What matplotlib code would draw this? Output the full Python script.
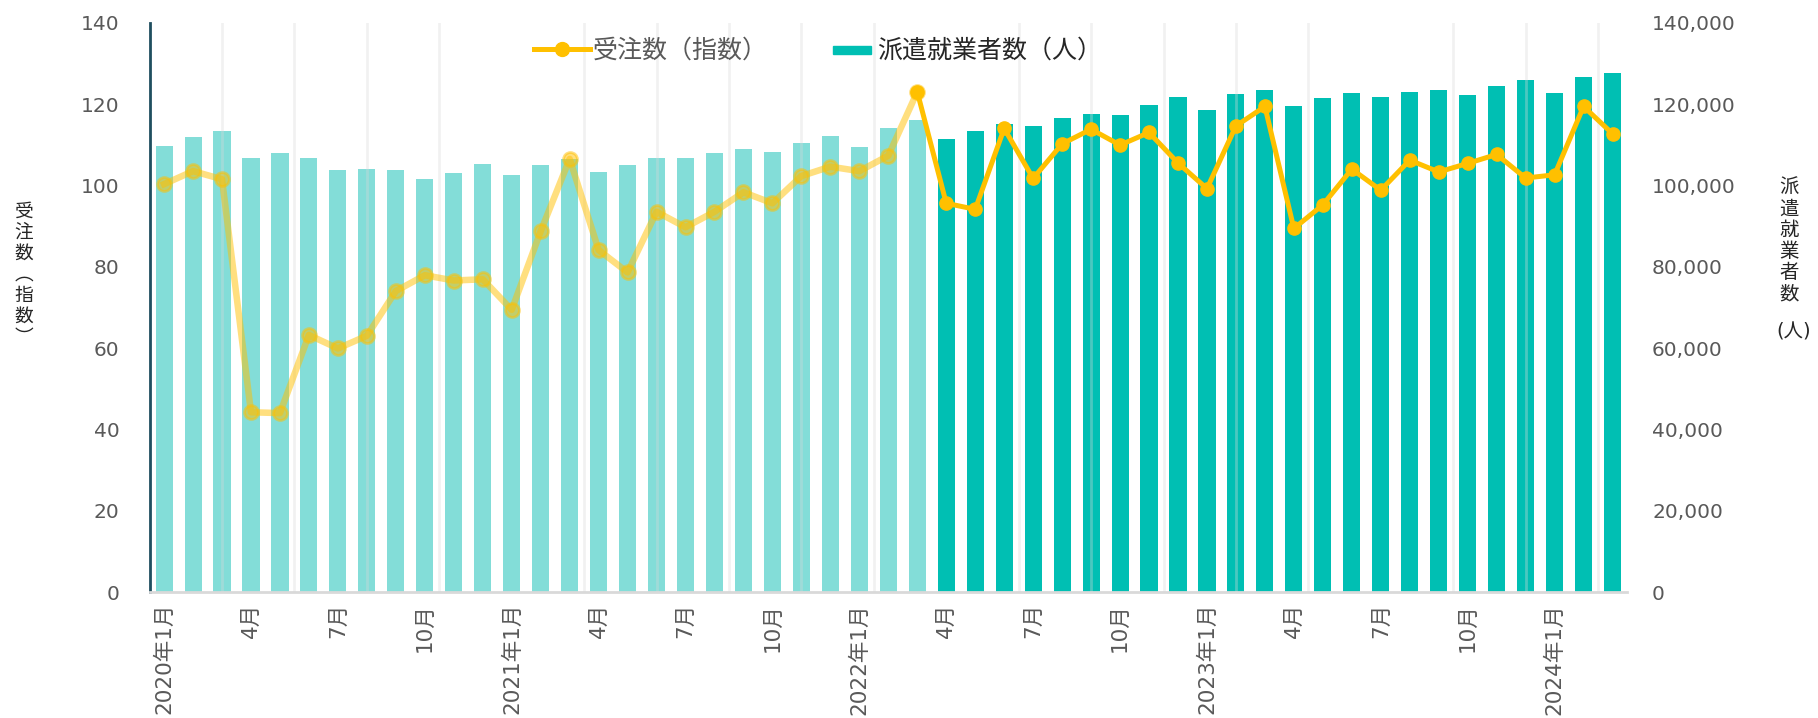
import numpy as np
import matplotlib
matplotlib.use('Agg')
import matplotlib.pyplot as plt
from matplotlib.lines import Line2D
from matplotlib.patches import Rectangle
from matplotlib.legend_handler import HandlerPatch
from matplotlib.ticker import FuncFormatter

plt.rcParams['font.family'] = ['DejaVu Sans', 'Noto Sans CJK JP']

# 2020年1月〜2024年3月（月次）
# 派遣就業者数（人）
workers = [109700, 111900, 113400, 106700, 108000, 106700, 103800, 104000, 103800, 101600,
           103000, 105300, 102600, 105000, 106500, 103300, 105000, 106700, 106700, 108000,
           109000, 108200, 110400, 112100, 109400, 114100, 116100, 111400, 113300, 115100,
           114500, 116500, 117600, 117300, 119800, 121700, 118600, 122500, 123500, 119500,
           121500, 122600, 121700, 123000, 123400, 122200, 124400, 125900, 122600, 126700,
           127600]

# 受注数（指数）
orders = [100.3, 103.5, 101.5, 44.2, 44.0, 63.2, 59.9, 63.0, 74.0, 77.9,
          76.6, 76.9, 69.4, 88.7, 106.5, 84.1, 78.6, 93.5, 89.7, 93.5,
          98.3, 95.6, 102.3, 104.6, 103.5, 107.3, 123.0, 95.6, 94.1, 114.0,
          101.7, 110.2, 113.8, 109.9, 113.0, 105.5, 99.2, 114.6, 119.4, 89.4,
          95.2, 104.0, 98.8, 106.2, 103.3, 105.4, 107.6, 101.8, 102.6, 119.4,
          112.7]

tick_labels = ['2020年1月', '4月', '7月', '10月',
               '2021年1月', '4月', '7月', '10月',
               '2022年1月', '4月', '7月', '10月',
               '2023年1月', '4月', '7月', '10月',
               '2024年1月']

# 2022年3月までは薄い色で表示
n_past = 27

TEAL = '#00BFB3'
TEAL_LIGHT = '#83DDD8'
GOLD = '#FFC000'
TICK_COLOR = '#595959'

W, H = 1818, 718
fig = plt.figure(figsize=(W / 100, H / 100), dpi=100)
ax = fig.add_axes([149.6 / W, 1 - 592 / H, (1627 - 149.6) / W, (592 - 22.7) / H])
ax2 = ax.twinx()

x = np.arange(len(workers))
bar_colors = [TEAL_LIGHT if i < n_past else TEAL for i in x]
ax2.bar(x, workers, width=0.59, color=bar_colors, zorder=2)

# 折れ線は棒の上に描く
ax.set_zorder(ax2.get_zorder() + 1)
ax.patch.set_visible(False)

ax.plot(x[:n_past], orders[:n_past], color=GOLD, alpha=0.5, lw=4.7,
        marker='o', ms=10, mew=2, zorder=3)
ax.plot(x[n_past - 1:], orders[n_past - 1:], color=GOLD, lw=3.6,
        marker='o', ms=9.5, zorder=4)

ax.set_xlim(-0.5, len(workers) - 0.5)
ax.set_ylim(0, 140)
ax2.set_ylim(0, 140000)
ax.set_yticks(np.arange(0, 141, 20))
ax2.set_yticks(np.arange(0, 140001, 20000))
ax2.yaxis.set_major_formatter(FuncFormatter(lambda v, p: f'{int(v):,}'))

ax.set_xticks(x[::3])
ax.set_xticklabels(tick_labels, rotation=90, va='top', ha='center')
ax.set_xticks(np.arange(2, len(workers), 2.5), minor=True)
ax.grid(which='minor', axis='x', color='#D9D9D9', alpha=0.35, lw=2, zorder=1)

ax.tick_params(axis='y', length=0, pad=21.5, labelsize=14.5, labelcolor=TICK_COLOR)
ax.tick_params(axis='x', which='both', length=0, pad=8, labelsize=15.5, labelcolor=TICK_COLOR)
ax2.tick_params(axis='y', length=0, pad=18, labelsize=14.5, labelcolor=TICK_COLOR)

for s in ['top', 'right']:
    ax.spines[s].set_visible(False)
for s in ax2.spines.values():
    s.set_visible(False)
ax.spines['left'].set_color('#1F4E5F')
ax.spines['left'].set_linewidth(2)
ax.spines['bottom'].set_color('#D9D9D9')
ax.spines['bottom'].set_linewidth(2)

# 縦書きの軸ラベル
fig.text(24 / W, 1 - 274 / H, '受\n注\n数\n︵\n指\n数\n︶', ha='center', va='center',
         fontsize=13.5, linespacing=1.0, color='#262626', family=['Noto Sans CJK JP'])
fig.text(1789 / W, 1 - 241 / H, '派\n遣\n就\n業\n者\n数', ha='center', va='center',
         fontsize=14, linespacing=1.02, color='#262626', family=['Noto Sans CJK JP'])
fig.text(1794 / W, 1 - 332 / H, '(人)', ha='center', va='center',
         fontsize=14, color='#262626')


def bar_handle(legend, orig_handle, xdescent, ydescent, width, height, fontsize):
    return Rectangle((-xdescent + width * 0.25, -ydescent + height * 0.25),
                     width * 0.67, height * 0.45)


handles = [Line2D([], [], color=GOLD, lw=3.6, marker='o', ms=10),
           Rectangle((0, 0), 1, 1, color=TEAL)]
leg = fig.legend(handles, ['受注数（指数）', '派遣就業者数（人）'],
                 loc='center left', bbox_to_anchor=(534 / W, 1 - 51 / H),
                 ncol=2, frameon=False, fontsize=18, borderpad=0, borderaxespad=0,
                 handlelength=2.24, handletextpad=0.1, columnspacing=2.06,
                 handler_map={Rectangle: HandlerPatch(patch_func=bar_handle)})
leg.get_texts()[0].set_color('#595959')
leg.get_texts()[1].set_color('#262626')

fig.savefig('out.png', dpi=100)
